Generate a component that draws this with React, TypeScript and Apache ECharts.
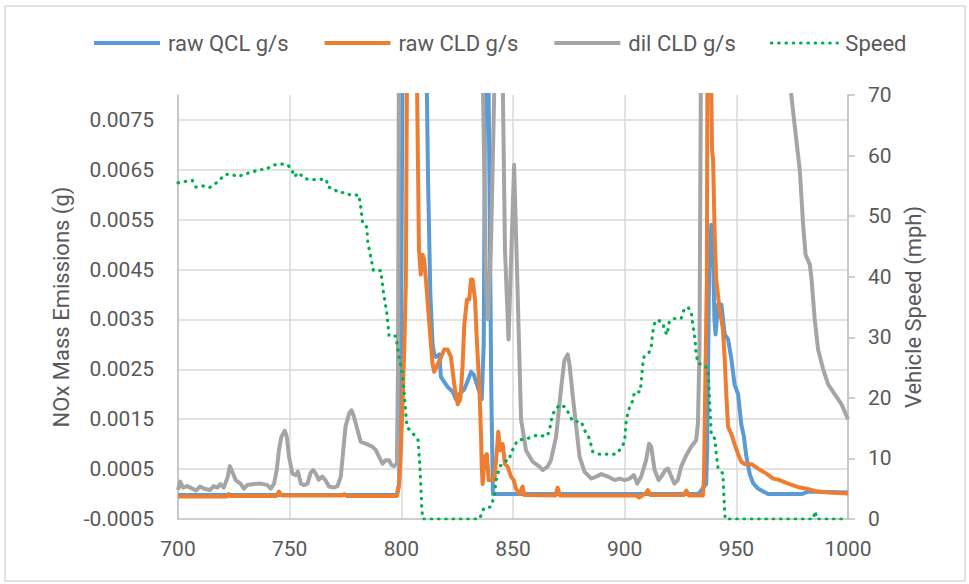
import React, { useEffect, useRef } from "react";
import * as echarts from "echarts";

// ---- raw QCL g/s (blue) ----
const qclTime = [700, 798, 799, 799.8, 800.6, 805, 811, 812, 813, 814, 814.7, 815.5, 817, 817.7, 819.2, 820.7, 823, 824.4, 825.9, 828.2, 830, 831.2, 832.4, 834.2, 836, 836.9, 837.6, 838.5, 839.3, 840.3, 841, 933, 936.5, 937, 937.8, 938.8, 939.5, 940.2, 940.7, 941.8, 943.3, 944.8, 946.3, 947.8, 949.2, 950.8, 952.2, 953.4, 954.5, 956, 957.5, 959.7, 964.2, 979.2, 982.2, 1000];
const qclValue = [-0.00002, -0.00002, 0.0002, 0.0025, 0.009, 0.014, 0.0095, 0.0062, 0.004, 0.003, 0.0028, 0.00275, 0.0028, 0.00235, 0.00225, 0.00215, 0.00205, 0.0019, 0.002, 0.0021, 0.0023, 0.00245, 0.0024, 0.00215, 0.0019, 0.003, 0.009, 0.011, 0.007, 0.002, 0.0, 0.0, 0.0002, 0.001, 0.0045, 0.0054, 0.0049, 0.0035, 0.0032, 0.0038, 0.0038, 0.0032, 0.0031, 0.0027, 0.0022, 0.002, 0.0014, 0.00115, 0.00075, 0.0004, 0.00022, 0.00011, 0.0, 0.0, 0.00005, 0.00003];

// ---- raw CLD g/s (orange) ----
const cldTime = [700, 722, 722.7, 723.5, 744, 745.2, 746.5, 773.5, 774.4, 775.5, 798, 799, 799.8, 800.6, 801.3, 802, 802.6, 805, 806.7, 807.9, 808.7, 809.5, 810.2, 811, 811.7, 812.9, 814, 814.7, 816.2, 817.4, 819.2, 820.7, 822.2, 823.7, 825.2, 826.4, 827.4, 828.2, 829.4, 830.4, 831.2, 831.9, 833, 833.9, 834.9, 835.7, 836, 836.4, 837.4, 838.3, 839.1, 841.6, 842.8, 843.4, 844.3, 845.4, 846.4, 847.6, 849.1, 850.3, 851.3, 852.8, 854.3, 855.1, 869, 870, 871, 905, 906.5, 909.5, 910.4, 911.5, 926.5, 927.6, 928.8, 935, 935.5, 936.1, 936.8, 937.1, 938, 938.6, 939.1, 939.6, 940.3, 941, 942.5, 943.3, 944, 944.8, 945.5, 946.3, 947.8, 949.2, 950.8, 952.2, 953.7, 956.8, 959.7, 963.5, 966.5, 968.8, 973.2, 978.4, 982.2, 986.6, 991.1, 1000];
const cldValue = [-0.00005, -0.00005, 0.0, -0.00004, -0.00004, 0.00005, -0.00003, -0.00003, 0.0, -0.00004, -0.00004, 0.0002, 0.00088, 0.0019, 0.0029, 0.0042, 0.009, 0.015, 0.0095, 0.0049, 0.0044, 0.0048, 0.0047, 0.0043, 0.0039, 0.0032, 0.0026, 0.00245, 0.0026, 0.0027, 0.0029, 0.0029, 0.00275, 0.0022, 0.0018, 0.0019, 0.00255, 0.0034, 0.0039, 0.0039, 0.0043, 0.0043, 0.0039, 0.003, 0.0022, 0.00115, 0.00055, 0.0002, 0.00075, 0.0008, 0.00028, 0.00028, 0.00088, 0.00125, 0.00088, 0.001, 0.0006, 0.00055, 0.00035, 0.00028, 0.00011, 0.0, 0.00015, -0.00002, -0.00003, 0.00013, -0.00003, -0.00003, -0.00007, 0.00002, 0.00008, -0.00002, -0.00002, 0.00007, -0.00003, -0.00003, 0.0003, 0.0022, 0.0043, 0.009, 0.012, 0.009, 0.0069, 0.0067, 0.0052, 0.0043, 0.0037, 0.0035, 0.0033, 0.0027, 0.002, 0.00135, 0.0012, 0.001, 0.0008, 0.00065, 0.0006, 0.0006, 0.00051, 0.00041, 0.00031, 0.00029, 0.00021, 0.00013, 0.0001, 0.00005, 0.00003, 0.00001];

// ---- dil CLD g/s (gray) ----
const dilTime = [700, 701, 702.3, 704, 706.4, 708, 709.8, 712.3, 714.3, 716, 717.6, 719, 720.5, 722.3, 723.2, 724.3, 725.8, 728, 729.5, 731, 734, 737, 740, 741.5, 743, 744.2, 745.2, 746.3, 747.8, 748.7, 749.7, 751.2, 752.7, 753.7, 755, 756.5, 758, 759.4, 760.5, 761.7, 763, 764.6, 766, 767.6, 769.6, 771.4, 772.9, 774, 775, 776.6, 777.7, 778.8, 780.4, 781.8, 784, 785.5, 787, 788.6, 790, 791.6, 793, 794.5, 795.6, 796.8, 798, 798.5, 799, 805, 830, 836.6, 837.9, 838.8, 840.1, 841.8, 842.5, 844.5, 845.2, 846.4, 848, 850.5, 851.8, 853.6, 855.8, 858.8, 861.8, 863.3, 865.5, 867, 869.3, 871.5, 873, 874.5, 875.3, 876.8, 878.3, 879.8, 882, 885, 887.3, 889.5, 892.5, 895.5, 897.7, 900, 902.2, 904.1, 905.6, 907.4, 909.6, 910.9, 911.9, 913.4, 915.2, 916.4, 918.2, 919.4, 920.9, 922.3, 923.8, 925.3, 927.6, 929.8, 932, 932.8, 933.5, 934.2, 940, 970, 974.6, 976.1, 978.4, 979.9, 981, 982.9, 983.7, 985.1, 986.6, 988.9, 991.1, 994.1, 997.1, 1000];
const dilValue = [0.00008, 0.00025, 0.00013, 0.00016, 0.00011, 0.00007, 0.00015, 0.0001, 0.00008, 0.00016, 0.00013, 0.0002, 0.00013, 0.00035, 0.00056, 0.00045, 0.00028, 0.00021, 0.00011, 0.00018, 0.0002, 0.00021, 0.00018, 0.00011, 0.00021, 0.00048, 0.00088, 0.00115, 0.00127, 0.00115, 0.00075, 0.00041, 0.00038, 0.00045, 0.00021, 0.00018, 0.00021, 0.00043, 0.00048, 0.00041, 0.00029, 0.00035, 0.00028, 0.00015, 0.00013, 0.00016, 0.00035, 0.00088, 0.00135, 0.00161, 0.00168, 0.00155, 0.00128, 0.00105, 0.00101, 0.00098, 0.00095, 0.00088, 0.00075, 0.00061, 0.00068, 0.00068, 0.00058, 0.00056, 0.00061, 0.0025, 0.01, 0.016, 0.016, 0.008, 0.0043, 0.0035, 0.0049, 0.0085, 0.012, 0.012, 0.009, 0.0049, 0.0031, 0.0066, 0.0045, 0.0015, 0.00088, 0.00065, 0.00055, 0.00048, 0.00055, 0.00068, 0.00115, 0.0021, 0.00268, 0.0028, 0.0026, 0.00195, 0.00135, 0.00075, 0.00045, 0.00031, 0.00035, 0.0004, 0.00035, 0.00028, 0.00031, 0.00028, 0.00031, 0.00038, 0.00021, 0.00035, 0.00068, 0.00101, 0.00095, 0.00048, 0.00028, 0.00035, 0.00048, 0.00051, 0.00035, 0.00021, 0.00028, 0.00055, 0.00078, 0.00095, 0.00108, 0.00141, 0.0029, 0.009, 0.016, 0.016, 0.008, 0.0074, 0.0065, 0.0054, 0.0048, 0.0046, 0.0043, 0.0035, 0.0029, 0.0025, 0.0022, 0.002, 0.0018, 0.0015];

// ---- Speed (mph, right axis) ----
const speedTime = [700, 703, 706.4, 708, 711, 714, 716.5, 718.7, 721, 724, 727, 730, 733, 736, 739.5, 742, 746, 749, 751, 752, 754, 756.6, 760, 763, 766.5, 767, 769.6, 771.7, 774.8, 777.7, 781, 782, 782.7, 784.5, 785, 786.3, 787.5, 790.8, 792, 793.5, 794.5, 797.5, 799, 800.5, 801.5, 802.5, 805.7, 807.5, 808.2, 808.7, 809.2, 809.6, 835, 837, 840, 841.6, 842.4, 844, 846, 848.3, 849, 850.5, 852, 856.6, 861, 864.8, 866.3, 867, 868, 869.3, 871.5, 873.8, 875.2, 876.8, 880.5, 882, 884.2, 885.7, 888.7, 896.2, 898.4, 900, 900.7, 902.2, 903.7, 904.4, 907, 907.6, 908.1, 908.7, 910.7, 911.9, 912.6, 913.4, 914.6, 917.1, 917.8, 919, 920, 922.3, 925.3, 926.5, 928.3, 929.8, 930.3, 931, 931.5, 932, 932.8, 935.8, 937.3, 937.7, 938, 938.4, 938.8, 940.3, 941, 941.8, 944, 944.3, 944.6, 945, 984.5, 985.3, 986, 1000];
const speedValue = [55.5, 55.7, 55.9, 54.8, 55, 54.7, 55.3, 56, 56.9, 56.9, 56.5, 57, 57.2, 57.7, 57.7, 58.4, 58.6, 58.5, 57.7, 56.5, 57.2, 56.2, 56, 56.1, 56, 54.8, 54.6, 53.9, 53.9, 53.4, 53.5, 51.1, 48.7, 48.2, 45.6, 43.3, 41, 41, 37.4, 34, 30.2, 30.2, 26.8, 24, 19.6, 15.2, 13.9, 13, 9.2, 5.9, 1.5, 0, 0, 1.8, 2, 3.7, 6.4, 8.6, 9.5, 9.7, 10.8, 11.9, 13, 13.3, 13.9, 13.6, 14.4, 16.1, 17.4, 18.3, 18.9, 18.3, 17.2, 16.1, 16.1, 14.7, 13.3, 11.1, 10.7, 10.7, 11.7, 12.8, 16.3, 18.5, 19.6, 21, 21, 23.5, 25.4, 26.8, 27.3, 28.4, 30.9, 32.3, 32.9, 32.4, 31.2, 30.4, 32.6, 33.1, 33.1, 34.5, 35, 34.2, 32.7, 30.9, 29.5, 27.3, 25.7, 25.4, 24.6, 22.4, 19.6, 16.9, 13.9, 13.3, 10.8, 8.4, 7.5, 4.8, 2.6, 0, 0, 1.3, 0, 0];

const seriesNames = ["raw QCL g/s", "raw CLD g/s", "dil CLD g/s", "Speed"];
const seriesColors = ["#5B9BD5", "#ED7D31", "#A5A5A5", "#00B050"];

const pairs = (t: number[], v: number[]) => t.map((x, i) => [x, v[i]]);

const TEXT = "#595959";
const GRID = "#d9d9d9";
const AXIS = "#bfbfbf";
const FONT = "Roboto, 'Open Sans', sans-serif";
const LINE_W = 4;
const DOT_W = 3.2;
const DOT_DASH = [0.5, 6.8];

export default function App() {
  const ref = useRef<HTMLDivElement>(null);
  useEffect(() => {
    if (!ref.current) return;
    const chart = echarts.init(ref.current, null, { renderer: "svg" });
    const lineSeries = (i: number, data: number[][], extra: any = {}) => ({
      name: seriesNames[i],
      type: "line",
      data,
      symbol: "none",
      showSymbol: false,
      clip: true,
      itemStyle: { color: seriesColors[i] },
      lineStyle: { color: seriesColors[i], width: LINE_W, join: "round" },
      ...extra,
    });
    chart.setOption({
      animation: false,
      backgroundColor: "#ffffff",
      textStyle: { fontFamily: FONT },
      graphic: [
        {
          type: "rect",
          silent: true,
          z: -10,
          shape: { x: 5, y: 6, width: 960, height: 575 },
          style: { fill: "none", stroke: GRID, lineWidth: 1.5 },
        },
      ],
      legend: {
        left: 92,
        top: 32,
        padding: 0,
        itemWidth: 66,
        itemHeight: 14,
        itemGap: 34,
        itemStyle: { opacity: 0 },
        textStyle: { fontSize: 22, color: TEXT, fontFamily: FONT, padding: [0, 0, 0, 3] },
        data: seriesNames.map((name, i) => ({
          name,
          lineStyle:
            i === 3
              ? { color: seriesColors[i], width: DOT_W, type: DOT_DASH, cap: "round" }
              : { color: seriesColors[i], width: LINE_W },
        })),
      },
      grid: { left: 178, right: 121, top: 95, bottom: 65, containLabel: false },
      xAxis: {
        type: "value",
        min: 700,
        max: 1000,
        interval: 50,
        axisLine: { onZero: false, lineStyle: { color: AXIS, width: 1.5 } },
        axisTick: { show: false },
        axisLabel: { fontSize: 21, color: TEXT, margin: 19, fontFamily: FONT, formatter: (v: number) => String(v) },
        splitLine: { show: true, lineStyle: { color: GRID, width: 1.5 } },
      },
      yAxis: [
        {
          type: "value",
          min: -0.0005,
          max: 0.008,
          interval: 0.001,
          name: "NOx Mass Emissions (g)",
          nameLocation: "middle",
          nameRotate: 90,
          nameGap: 106,
          nameTextStyle: { fontSize: 22, color: TEXT, fontFamily: FONT },
          axisLine: { show: true, onZero: false, lineStyle: { color: AXIS, width: 1.5 } },
          axisTick: { show: false },
          axisLabel: {
            fontSize: 21,
            color: TEXT,
            margin: 24,
            fontFamily: FONT,
            showMaxLabel: false,
            formatter: (v: number) => (Math.abs(v - 0.008) < 1e-9 ? "" : v.toFixed(4)),
          },
          splitLine: { show: true, showMinLine: false, showMaxLine: false, lineStyle: { color: GRID, width: 1.5 } },
        },
        {
          type: "value",
          min: 0,
          max: 70,
          interval: 10,
          position: "right",
          name: "Vehicle Speed (mph)",
          nameLocation: "middle",
          nameRotate: 90,
          nameGap: 50,
          nameTextStyle: { fontSize: 22, color: TEXT, fontFamily: FONT },
          axisLine: { show: true, onZero: false, lineStyle: { color: AXIS, width: 1.5 } },
          axisTick: { show: true, inside: false, length: 7, lineStyle: { color: AXIS, width: 1.5 } },
          axisLabel: { fontSize: 21, color: TEXT, margin: 20, fontFamily: FONT },
          splitLine: { show: false },
        },
      ],
      series: [
        lineSeries(0, pairs(qclTime, qclValue)),
        lineSeries(1, pairs(cldTime, cldValue)),
        lineSeries(2, pairs(dilTime, dilValue)),
        lineSeries(3, pairs(speedTime, speedValue), {
          yAxisIndex: 1,
          lineStyle: { color: seriesColors[3], width: DOT_W, type: DOT_DASH, cap: "round", join: "round" },
        }),
      ],
    });
    return () => chart.dispose();
  }, []);
  return (
    <div
      ref={ref}
      style={{ position: "fixed", left: 0, top: 0, width: 969, height: 584, background: "#fff" }}
    />
  );
}
